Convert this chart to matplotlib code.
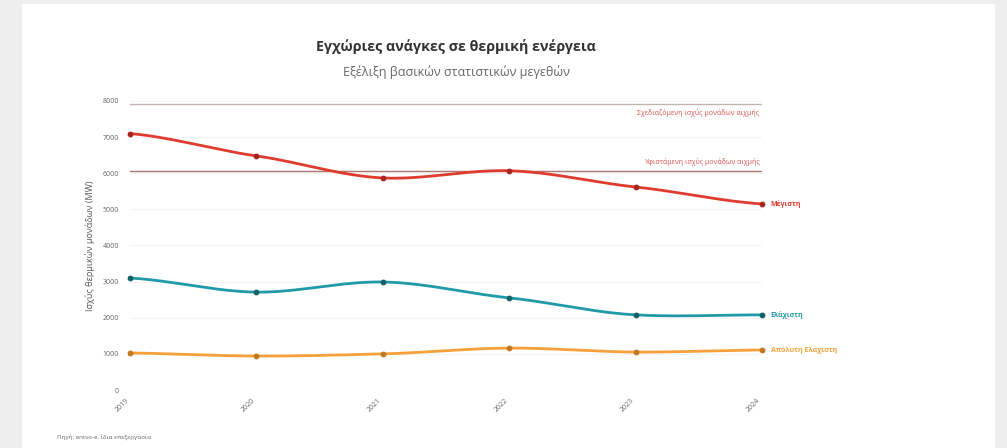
import numpy as np
import matplotlib
matplotlib.use("Agg")
import matplotlib.pyplot as plt
from matplotlib.patches import Rectangle

years = ["2019", "2020", "2021", "2022", "2023", "2024"]
max_vals = [7100, 6480, 5870, 6070, 5620, 5150]
mid_vals = [3100, 2710, 2990, 2550, 2080, 2080]
min_vals = [1025, 940, 1000, 1160, 1050, 1110]
series_names = ["Μέγιστη", "Ελάχιστη", "Απόλυτη Ελάχιστη"]
ref_values = [7920, 6050]
ref_names = ["Σχεδιαζόμενη ισχύς μονάδων αιχμής", "Υφιστάμενη ισχύς μονάδων αιχμής"]
yticks = [0, 1000, 2000, 3000, 4000, 5000, 6000, 7000, 8000]

plt.rcParams['font.family'] = ['Open Sans', 'DejaVu Sans']

W, H = 1007, 448
fig = plt.figure(figsize=(W / 100, H / 100), dpi=100)
fig.patch.set_facecolor("#eeeeee")
fig.patches.append(Rectangle((22 / W, 0), (995 - 22) / W, 1 - 4 / H,
                             transform=fig.transFigure, facecolor="white",
                             edgecolor="none", zorder=-10))

ax = fig.add_axes([130 / W, 1 - 390 / H, (762 - 130) / W, (390 - 101) / H])
ax.set_zorder(2)
ax.set_facecolor("none")
x = np.arange(len(years))


def smooth(xs, ys, n=40):
    xs = np.asarray(xs, float)
    ys = np.asarray(ys, float)
    m = np.zeros_like(ys)
    m[1:-1] = (ys[2:] - ys[:-2]) / (xs[2:] - xs[:-2]) * 0.8
    m[0] = (ys[1] - ys[0]) * 0.5
    m[-1] = (ys[-1] - ys[-2]) * 0.5
    out_x, out_y = [], []
    for i in range(len(xs) - 1):
        t = np.linspace(0, 1, n)
        h = xs[i + 1] - xs[i]
        h00 = 2 * t**3 - 3 * t**2 + 1
        h10 = t**3 - 2 * t**2 + t
        h01 = -2 * t**3 + 3 * t**2
        h11 = t**3 - t**2
        out_x.append(xs[i] + t * h)
        out_y.append(h00 * ys[i] + h10 * h * m[i] + h01 * ys[i + 1] + h11 * h * m[i + 1])
    return np.concatenate(out_x), np.concatenate(out_y)


# reference lines
ref_colors = ["#c2b4b1", "#a87670"]
ref_offsets = [(-130, "top"), (150, "bottom")]
for val, name, c, (off, va) in zip(ref_values, ref_names, ref_colors, ref_offsets):
    ax.axhline(val, color=c, lw=1.0, zorder=1)
    ax.text(4.98, val + off, name, ha="right", va=va, fontsize=5,
            color="#d9534f")

colors = ["#e03b2f", "#1f9aa6", "#f5a03a"]
dot_colors = ["#a8261d", "#15616a", "#c27a22"]
for vals, name, c, dc in zip([max_vals, mid_vals, min_vals], series_names, colors, dot_colors):
    sx, sy = smooth(x, vals)
    ax.plot(sx, sy, color=c, lw=2, zorder=3, clip_on=False)
    ax.scatter(x, vals, s=10, color=dc, zorder=4, clip_on=False)
    ax.text(x[-1] + 0.07, vals[-1], name, ha="left", va="center", fontsize=5,
            color=c, fontweight="bold")

ax.set_xlim(0, 5)
ax.set_ylim(0, 8000)
ax.set_yticks(yticks)
ax.set_yticklabels([str(v) for v in yticks], fontsize=5, color="#666666")
ax.set_xticks(x)
ax.set_xticklabels(years, fontsize=5, color="#666666", rotation=45,
                   ha="right", va="top")
ax.tick_params(length=0, pad=8)
ax.tick_params(axis="x", pad=5)
ax.grid(axis="y", color="#f4f4f4", lw=0.8)
for s in ax.spines.values():
    s.set_visible(False)
ax.set_ylabel("Ισχύς θερμικών μονάδων (MW)", fontsize=6.5, color="#555555",
              labelpad=5)

fig.text(456 / W, 1 - 47 / H, "Εγχώριες ανάγκες σε θερμική ενέργεια",
         ha="center", va="center", fontsize=10.3, fontweight="bold", color="#333333")
fig.text(456 / W, 1 - 72 / H, "Εξέλιξη βασικών στατιστικών μεγεθών",
         ha="center", va="center", fontsize=9, color="#666666")
fig.text(57 / W, 1 - 438 / H, "Πηγή: entso-e, ίδια επεξεργασία",
         ha="left", va="center", fontsize=4.5, color="#666666")

fig.savefig("out.png", dpi=100, facecolor=fig.get_facecolor())
